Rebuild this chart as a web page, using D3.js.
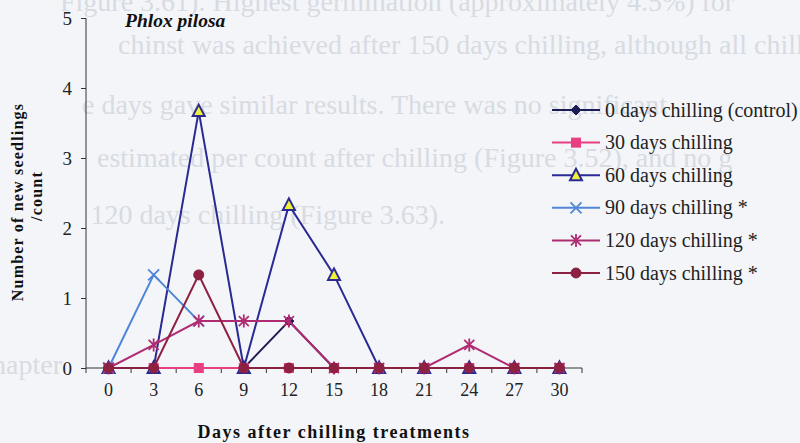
<!DOCTYPE html>
<html>
<head>
<meta charset="utf-8">
<script src="https://cdn.jsdelivr.net/npm/d3@7"></script>
<style>
  html, body { margin: 0; padding: 0; background: #f3f5f9; }
  svg { display: block; }
</style>
</head>
<body>
<svg id="chart" width="800" height="443"></svg>
<script>
// ---- data ----
const days = ["0", "3", "6", "9", "12", "15", "18", "21", "24", "27", "30"];
const seriesNames = [
  "0 days chilling (control)",
  "30 days chilling",
  "60 days chilling",
  "90 days chilling *",
  "120 days chilling *",
  "150 days chilling *"
];
const control0   = [0, 0, 0, 0, 0.67, 0, 0, 0, 0, 0, 0];
const chill30    = [0, 0, 0, 0, 0, 0, 0, 0, 0, 0, 0];
const chill60    = [0, 0, 3.67, 0, 2.33, 1.33, 0, 0, 0, 0, 0];
const chill90    = [0, 1.33, 0.67, null, null, null, null, null, null, null, null];
const chill120   = [0, 0.33, 0.67, 0.67, 0.67, 0, 0, 0, 0.33, 0, 0];
const chill150   = [0, 0, 1.33, 0, 0, 0, 0, 0, 0, 0, 0];
const yTicks = [0, 1, 2, 3, 4, 5];

// faint text of the scanned page behind the chart
const bgLines = [
  "Figure 3.61). Highest germination (approximately 4.5%) for",
  "chinst was achieved after 150 days chilling, although all chill",
  "e days gave similar results. There was no significant",
  "estimated per count after chilling (Figure 3.52), and no g",
  "120 days chilling (Figure 3.63).",
  "Chapter"
];

const seriesValues = [control0, chill30, chill60, chill90, chill120, chill150];
const colors = ["#1c1c55", "#e83e82", "#2a2a92", "#4f86d8", "#b02c72", "#8c2142"];
const markers = ["diamond", "square", "triangle", "cross", "asterisk", "circle"];

// ---- drawing ----
const svg = d3.select("#chart");
const serif = "'Liberation Serif', 'Times New Roman', serif";

const bgPos = [
  {x: 60, y: 11, a: "start"}, {x: 118, y: 54, a: "start"}, {x: 82, y: 114, a: "start"},
  {x: 97, y: 167, a: "start"}, {x: 445, y: 224, a: "end"}, {x: 62, y: 374, a: "end"}
];
svg.append("g").selectAll("text").data(bgLines).join("text")
  .attr("x", (d, i) => bgPos[i].x)
  .attr("y", (d, i) => bgPos[i].y)
  .attr("text-anchor", (d, i) => bgPos[i].a)
  .attr("font-family", serif)
  .attr("font-size", 28)
  .attr("fill", "#d8dbe2")
  .text(d => d);

const x = d3.scaleBand().domain(days).range([86, 582]);
const y = d3.scaleLinear().domain([0, 5]).range([368, 18]);

// Y axis
const yAxis = svg.append("g").attr("transform", "translate(86,0)")
  .call(d3.axisLeft(y).tickValues(yTicks).tickSize(5).tickPadding(9).tickFormat(d3.format("d")));
yAxis.select(".domain").attr("stroke", "#333").attr("d", "M0," + y(5) + "V" + y(0));
yAxis.selectAll(".tick line").attr("stroke", "#333");
yAxis.selectAll(".tick text").attr("font-family", serif).attr("font-size", 19).attr("fill", "#222");

// X axis
const xAxis = svg.append("g").attr("transform", "translate(0,368)")
  .call(d3.axisBottom(x).tickSize(0).tickPadding(15));
xAxis.select(".domain").attr("stroke", "#333").attr("d", "M86,0H582");
xAxis.selectAll(".tick text").attr("font-family", serif).attr("font-size", 18).attr("fill", "#222");
const boundaries = days.map(d => x(d)).concat([x(days[days.length - 1]) + x.step()]);
xAxis.selectAll(".bt").data(boundaries).join("line")
  .attr("class", "bt")
  .attr("x1", d => d).attr("x2", d => d)
  .attr("y1", 0).attr("y2", 5)
  .attr("stroke", "#333");

// Titles
svg.append("text")
  .attr("x", 125).attr("y", 27)
  .attr("font-family", serif).attr("font-size", 19.5)
  .attr("font-weight", "bold").attr("font-style", "italic")
  .attr("fill", "#111")
  .text("Phlox pilosa");

svg.append("text")
  .attr("x", 334).attr("y", 438)
  .attr("text-anchor", "middle")
  .attr("font-family", serif).attr("font-size", 18)
  .attr("font-weight", "bold").attr("letter-spacing", 1.5)
  .attr("fill", "#111")
  .text("Days after chilling treatments");

svg.append("text")
  .attr("transform", "translate(23,202) rotate(-90)")
  .attr("text-anchor", "middle")
  .attr("font-family", serif).attr("font-size", 16)
  .attr("font-weight", "bold").attr("letter-spacing", 1.2)
  .attr("fill", "#111")
  .text("Number of new seedlings");
svg.append("text")
  .attr("transform", "translate(42,196) rotate(-90)")
  .attr("text-anchor", "middle")
  .attr("font-family", serif).attr("font-size", 16)
  .attr("font-weight", "bold").attr("letter-spacing", 1.2)
  .attr("fill", "#111")
  .text("/count");

// marker drawing
function drawMarker(g, type, color) {
  switch (type) {
    case "diamond":
      g.append("path").attr("d", "M0,-5L5,0L0,5L-5,0Z").attr("fill", color).attr("stroke", color);
      break;
    case "square":
      g.append("rect").attr("x", -4.5).attr("y", -4.5).attr("width", 9).attr("height", 9)
        .attr("fill", color).attr("stroke", color);
      break;
    case "triangle":
      g.append("path").attr("d", "M0,-6.5L6,5L-6,5Z").attr("fill", "#f2f03a")
        .attr("stroke", color).attr("stroke-width", 2);
      break;
    case "cross":
      g.append("path").attr("d", "M-5.5,-5.5L5.5,5.5M-5.5,5.5L5.5,-5.5").attr("stroke", color).attr("stroke-width", 1.8);
      break;
    case "asterisk":
      g.append("path").attr("d", "M-5,-5L5,5M-5,5L5,-5M0,-6.5V6.5").attr("stroke", color).attr("stroke-width", 1.8);
      break;
    case "circle":
      g.append("circle").attr("r", 5).attr("fill", color).attr("stroke", color);
      break;
  }
}

// series
const line = d3.line()
  .defined(d => d.v !== null)
  .x(d => x(d.day) + x.bandwidth() / 2)
  .y(d => y(d.v));

const plot = svg.append("g");
seriesValues.forEach((vals, si) => {
  const pts = days.map((day, i) => ({day, v: vals[i]}));
  const g = plot.append("g");
  g.append("path").datum(pts)
    .attr("d", line)
    .attr("fill", "none")
    .attr("stroke", colors[si])
    .attr("stroke-width", 2);
  pts.filter(p => p.v !== null).forEach(p => {
    const mg = g.append("g").attr("transform", `translate(${x(p.day) + x.bandwidth() / 2},${y(p.v)})`);
    drawMarker(mg, markers[si], colors[si]);
  });
});

// legend
const legend = svg.append("g");
seriesNames.forEach((name, i) => {
  const ly = 110 + i * 32.6;
  const lg = legend.append("g").attr("transform", `translate(0,${ly})`);
  lg.append("line").attr("x1", 552).attr("x2", 600).attr("y1", 0).attr("y2", 0)
    .attr("stroke", colors[i]).attr("stroke-width", 2);
  const mg = lg.append("g").attr("transform", "translate(576,0)");
  drawMarker(mg, markers[i], colors[i]);
  lg.append("text").attr("x", 605).attr("y", 6.5)
    .attr("font-family", serif).attr("font-size", 20)
    .attr("fill", "#222")
    .text(name);
});
</script>
</body>
</html>
